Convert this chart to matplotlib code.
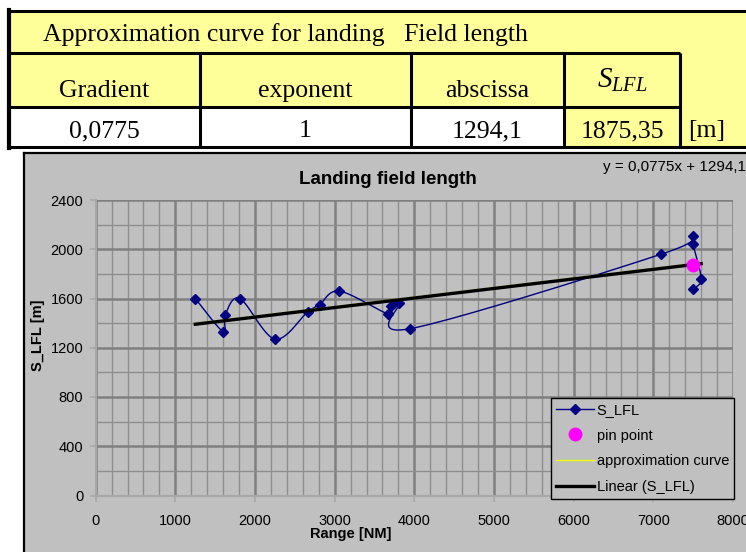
import matplotlib
matplotlib.use("Agg")
import matplotlib.pyplot as plt
import numpy as np
from matplotlib.patches import Rectangle
from matplotlib.ticker import MultipleLocator

plt.rcParams['font.family'] = ['Liberation Sans', 'DejaVu Sans']
plt.rcParams['mathtext.fontset'] = 'custom'
plt.rcParams['mathtext.it'] = 'Liberation Serif:italic'
plt.rcParams['mathtext.rm'] = 'Liberation Serif'

# --- data ---
table_title = "Approximation curve for landing   Field length"
table_headers = ["Gradient", "exponent", "abscissa", "$S_{LFL}$"]
table_values = ["0,0775", "1", "1294,1", "1875,35"]
unit_label = "[m]"

gradient = 0.0775
abscissa = 1294.1
pin_s_lfl = 1875.35

range_nm = [1250, 1600, 1625, 1810, 2250, 2660, 2810, 3060, 3670, 3705,
            3810, 3950, 7100, 7500, 7500, 7600, 7500]
s_lfl = [1600, 1330, 1465, 1600, 1270, 1490, 1550, 1660, 1475, 1540,
         1565, 1355, 1960, 2110, 2040, 1760, 1680]

W, H = 746, 552
YELLOW = '#FFFF99'
GRAY = '#C0C0C0'


def smooth(xs, ys, n=25):
    # Excel-like smoothed line (Catmull-Rom as cubic Bezier)
    pts = np.column_stack([xs, ys]).astype(float)
    P = np.vstack([pts[0], pts, pts[-1]])
    out = []
    t = np.linspace(0, 1, n)[:, None]
    for i in range(1, len(P) - 2):
        p0, p1, p2, p3 = P[i - 1], P[i], P[i + 1], P[i + 2]
        c1 = p1 + (p2 - p0) / 6
        c2 = p2 - (p3 - p1) / 6
        seg = (1 - t)**3 * p1 + 3 * (1 - t)**2 * t * c1 + 3 * (1 - t) * t**2 * c2 + t**3 * p2
        out.append(seg)
    return np.vstack(out)


fig = plt.figure(figsize=(W / 100, H / 100), dpi=100)

# background layer in pixel coordinates
bg = fig.add_axes([0, 0, 1, 1])
bg.set_xlim(0, W)
bg.set_ylim(H, 0)
bg.axis('off')

# table
cols = [8, 200, 411, 564, 680, W + 5]
bg.add_patch(Rectangle((8, 11), W, 42, fc=YELLOW, ec='none'))
bg.add_patch(Rectangle((8, 53), W, 54, fc=YELLOW, ec='none'))
bg.add_patch(Rectangle((8, 107), 556, 40, fc='white', ec='none'))
bg.add_patch(Rectangle((564, 107), W, 40, fc=YELLOW, ec='none'))
lk = dict(color='black', lw=2.2, solid_capstyle='butt')
bg.plot([8, W], [11, 11], **lk)
bg.plot([8, W], [147, 147], **lk)
bg.plot([8, 680], [53, 53], **lk)
bg.plot([8, 680], [107, 107], **lk)
bg.plot([8.5, 8.5], [10, 148], color='black', lw=3)
for cx in cols[1:5]:
    bg.plot([cx, cx], [53, 147], **lk)

serif = dict(family='Liberation Serif', fontsize=18.5, va='baseline')
bg.text(43, 41, table_title, ha='left', **serif)
for i, (hd, val) in enumerate(zip(table_headers, table_values)):
    xc = (cols[i] + cols[i + 1]) / 2
    if hd.startswith('$'):
        bg.text(xc, 88, hd, ha='center', family='Liberation Serif',
                fontsize=21, va='baseline')
    else:
        bg.text(xc, 97, hd, ha='center', **serif)
    bg.text(xc, 137, val, ha='center', **serif)
bg.text(688, 137, unit_label, ha='left', **serif)

# chart area
bg.add_patch(Rectangle((23.5, 153), W, H, fc=GRAY, ec='none'))
bg.plot([23.5, 23.5], [153, H], color='black', lw=1.6)
bg.plot([23.5, W], [153, 153], color='black', lw=1.6)

# plot area
x0, x1, y0, y1 = 95.7, 733, 200, 495.5
ax = fig.add_axes([x0 / W, 1 - y1 / H, (x1 - x0) / W, (y1 - y0) / H])
ax.set_facecolor(GRAY)
ax.set_xlim(0, 8000)
ax.set_ylim(0, 2400)
ax.xaxis.set_major_locator(MultipleLocator(1000))
ax.xaxis.set_minor_locator(MultipleLocator(200))
ax.yaxis.set_major_locator(MultipleLocator(400))
ax.yaxis.set_minor_locator(MultipleLocator(200))
ax.grid(which='major', color='#7f7f7f', lw=1.8)
ax.grid(which='minor', color='#8e8e8e', lw=1.0)
ax.set_axisbelow(True)
for s in ['top', 'right']:
    ax.spines[s].set_visible(False)
for s in ['left', 'bottom']:
    ax.spines[s].set_color('#a8a8a8')
    ax.spines[s].set_linewidth(1.5)
ax.tick_params(which='major', direction='out', length=4, width=1.2,
               color='#a8a8a8', labelsize=10.5)
ax.tick_params(axis='y', pad=5)
ax.tick_params(axis='x', pad=9)
ax.tick_params(which='minor', length=0)

curve = smooth(range_nm, s_lfl)
ax.plot(curve[:, 0], curve[:, 1], color='#000080', lw=1.0, zorder=3)
ax.plot(range_nm, s_lfl, ls='none', marker='D', ms=5, color='#000080', zorder=4)
ax.plot([], [], color='#000080', lw=1.0, marker='D', ms=5, label='S_LFL')

pin_range = (pin_s_lfl - abscissa) / gradient
ax.plot([pin_range], [pin_s_lfl], ls='none', marker='o', ms=9,
        color='#FF00FF', zorder=5, label='pin point')

xs = np.array([min(range_nm), max(range_nm)])
ax.plot(xs, gradient * xs + abscissa + 6, color='#FFFF00', lw=1.0, zorder=4,
        label='approximation curve')
ax.plot(xs, gradient * xs + abscissa, color='black', lw=2.4, zorder=4,
        label='Linear (S_LFL)')

ax.text(0.4587, 1.071, 'Landing field length', transform=ax.transAxes,
        ha='center', va='center', fontsize=13.5, fontweight='bold')
ax.text(0.4006, -0.130, 'Range [NM]', transform=ax.transAxes,
        ha='center', va='center', fontsize=10.5, fontweight='bold')
ax.text(-0.0905, 0.543, 'S_LFL [m]', transform=ax.transAxes, rotation=90,
        ha='center', va='center', fontsize=10.5, fontweight='bold')
ax.text(0.7957, 1.112, 'y = 0,0775x + 1294,1', transform=ax.transAxes,
        ha='left', va='center', fontsize=11, clip_on=False)

leg = ax.legend(loc='lower right', bbox_to_anchor=(734 / W, 1 - 499 / H),
                bbox_transform=fig.transFigure, fontsize=10.5, frameon=True,
                fancybox=False, facecolor=GRAY, edgecolor='black',
                framealpha=1, handlelength=2.6, handletextpad=0.2,
                borderpad=0.35, labelspacing=0.8, borderaxespad=0)
leg.get_frame().set_linewidth(1.0)

fig.savefig('out.png', dpi=100)
